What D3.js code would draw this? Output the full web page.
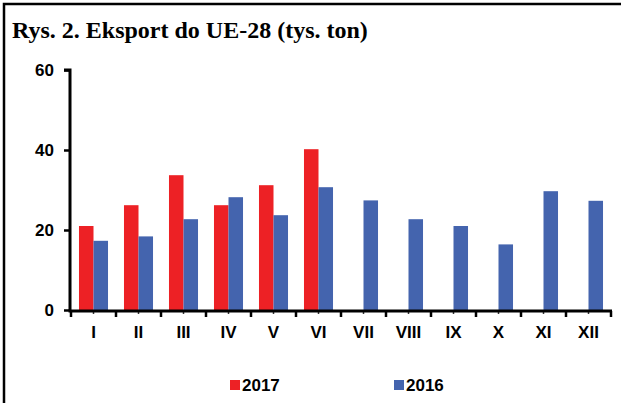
<!DOCTYPE html>
<html>
<head>
<meta charset="utf-8">
<script src="https://cdn.jsdelivr.net/npm/d3@7"></script>
<style>
  body { margin: 0; background: #fff; }
  svg text { font-family: "Liberation Sans", Arial, sans-serif; font-weight: bold; }
</style>
</head>
<body>
<svg id="chart" width="621" height="403"></svg>
<script>
// months and series
var months = ['I', 'II', 'III', 'IV', 'V', 'VI', 'VII', 'VIII', 'IX', 'X', 'XI', 'XII'];
var series = ['2017', '2016'];
var values2017 = [21, 26.2, 33.7, 26.2, 31.2, 40.2, null, null, null, null, null, null];
var values2016 = [17.3, 18.4, 22.7, 28.2, 23.7, 30.7, 27.4, 22.7, 21, 16.4, 29.7, 27.3];
var yTicks = [0, 20, 40, 60];
var colors = { '2017': '#ED2125', '2016': '#4464AE' };

var svg = d3.select('#chart');

// frame (top + left edges)
svg.append('path')
  .attr('d', 'M4,621V4H621')
  .attr('fill', 'none')
  .attr('stroke', '#000')
  .attr('stroke-width', 2.5);

svg.append('text')
  .attr('x', 12)
  .attr('y', 38)
  .style('font-family', '"Liberation Serif", "Times New Roman", serif')
  .style('font-size', '24px')
  .text('Rys. 2. Eksport do UE-28 (tys. ton)');

var x = d3.scaleBand().domain(months).range([71, 611]).padding(0);
var x1 = d3.scaleBand().domain(series).range([0, x.bandwidth()]).paddingInner(0).paddingOuter(0.55);
var y = d3.scaleLinear().domain([0, 60]).range([310, 70]);

// bars
var rows = months.map(function(m, i) {
  return { month: m, vals: [
    { key: '2017', value: values2017[i] },
    { key: '2016', value: values2016[i] }
  ]};
});

var g = svg.selectAll('.month')
  .data(rows)
  .enter()
  .append('g')
  .attr('class', 'month')
  .attr('transform', function(d) { return 'translate(' + x(d.month) + ',0)'; });

g.selectAll('rect')
  .data(function(d) { return d.vals.filter(function(v) { return v.value != null; }); })
  .enter()
  .append('rect')
  .attr('x', function(d) { return x1(d.key); })
  .attr('width', x1.bandwidth())
  .attr('y', function(d) { return y(d.value); })
  .attr('height', function(d) { return y(0) - y(d.value); })
  .style('fill', function(d) { return colors[d.key]; });

// y axis
var yAxis = svg.append('g')
  .attr('transform', 'translate(70,0)')
  .call(d3.axisLeft(y).tickValues(yTicks).tickSize(6).tickPadding(10));
yAxis.select('.domain').attr('stroke-width', 3).attr('d', 'M-6,70H0V311');
yAxis.selectAll('.tick line').attr('stroke-width', 2.5);
yAxis.selectAll('text').style('font-size', '17px').attr('fill', '#000');

// x axis: labels in band centres, ticks on band edges
var xAxis = svg.append('g')
  .attr('transform', 'translate(0,311)')
  .call(d3.axisBottom(x).tickSize(3).tickPadding(12));
xAxis.select('.domain').remove();
xAxis.selectAll('.tick line').attr('stroke-width', 1.5).attr('stroke', '#333');
xAxis.selectAll('text').style('font-size', '17px').attr('fill', '#000');

svg.append('line')
  .attr('x1', 68.5).attr('x2', 612)
  .attr('y1', 311).attr('y2', 311)
  .attr('stroke', '#000').attr('stroke-width', 3);

svg.selectAll('.edge-tick')
  .data(months.concat(['end']))
  .enter()
  .append('line')
  .attr('class', 'edge-tick')
  .attr('x1', function(d, i) { return x.range()[0] + i * x.step(); })
  .attr('x2', function(d, i) { return x.range()[0] + i * x.step(); })
  .attr('y1', 311).attr('y2', 317)
  .attr('stroke', '#000').attr('stroke-width', 2.5);

// legend
var legend = svg.selectAll('.legend')
  .data(series)
  .enter()
  .append('g')
  .attr('class', 'legend')
  .attr('transform', function(d, i) { return 'translate(' + (230 + i * 164) + ',380)'; });

legend.append('rect')
  .attr('width', 10).attr('height', 10)
  .style('fill', function(d) { return colors[d]; });

legend.append('text')
  .attr('x', 12).attr('y', 10.5)
  .style('font-size', '17px')
  .text(function(d) { return d; });
</script>
</body>
</html>
